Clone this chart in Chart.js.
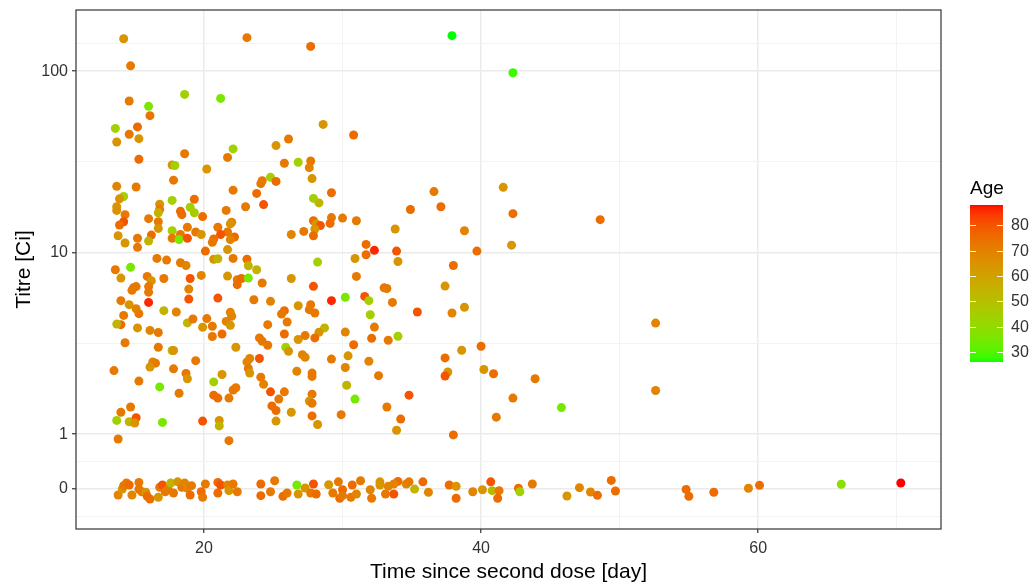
<!DOCTYPE html>
<html>
<head>
<meta charset="utf-8">
<title>Titre vs time since second dose</title>
<script src="https://cdn.jsdelivr.net/npm/chart.js@4.4.1/dist/chart.umd.min.js"></script>
<style>
  html, body { margin: 0; padding: 0; background: #ffffff; }
  #titreChart { display: block; }
</style>
</head>
<body>
<canvas id="titreChart" width="1034" height="585"></canvas>
<script>
// measured titres (days since second dose, titre, age)
const measuredDays = [
  14.2, 23.1, 27.7, 37.9, 14.7, 14.6, 18.6, 16.0, 21.2, 42.3,
  16.1, 13.6, 15.2, 14.6, 15.3, 13.7, 15.3, 18.6, 17.7, 17.9,
  17.8, 13.7, 15.1, 19.3, 17.7, 14.2, 13.9, 16.8, 19.0, 19.3,
  13.7, 13.7, 16.8, 18.3, 18.4, 14.3, 16.7, 16.0, 14.2, 13.9,
  16.7, 16.7, 18.8, 17.7, 19.4, 16.2, 13.8, 18.3, 17.7, 18.2,
  18.8, 15.2, 16.0, 14.3, 15.2, 16.6, 17.3, 18.3, 18.7, 14.7,
  13.6, 14.0, 15.9, 16.2, 17.1, 19.0, 18.9, 18.9, 14.9, 15.1,
  14.8, 16.0, 16.0, 14.0, 14.6, 15.1, 15.3, 16.0, 17.1, 18.0,
  14.2, 14.0, 13.7, 15.2, 16.1, 16.7, 18.8, 19.2, 14.3, 16.7,
  17.7, 17.8, 19.4, 16.3, 16.5, 16.1, 13.5, 17.8, 18.7, 18.8,
  15.3, 16.8, 18.2, 14.7, 14.0, 13.7, 14.6, 15.1, 15.0, 17.0,
  13.8,
  22.1, 21.7, 25.2, 26.1, 25.8, 26.8, 20.2, 24.8, 25.2, 24.2,
  24.1, 22.1, 23.8, 24.3, 23.0, 21.6, 19.9, 21.0, 22.0, 21.9,
  19.8, 21.7, 21.2, 20.7, 20.6, 22.2, 21.9, 26.3, 20.1, 21.7,
  20.7, 21.0, 22.1, 23.1, 23.2, 23.8,
  21.7, 19.8, 22.4, 22.7, 22.4, 23.2, 24.2, 26.3, 21.0, 23.6,
  24.8, 26.8, 25.8, 25.6, 20.2, 21.9, 22.0, 21.6, 21.9, 19.9,
  20.6, 26.0, 24.6, 21.3, 20.6, 25.8, 26.8, 24.0, 24.2, 24.6,
  25.9, 26.1, 22.3, 24.0, 23.3, 23.1, 23.2, 23.3, 26.7, 21.3,
  20.7, 24.1, 24.3, 22.1, 22.3, 25.8, 24.8, 20.7, 21.0, 21.8,
  25.4, 24.9, 25.2, 26.3, 25.2, 19.9, 21.1, 21.1, 21.8,
  28.6, 30.8, 27.7, 27.6, 27.8, 29.2, 27.9, 28.3, 27.9, 28.1,
  28.4, 28.0, 29.2, 29.1, 30.0, 31.0, 27.2, 27.9, 33.8, 31.7,
  32.3, 31.7, 33.9, 34.0, 28.2, 30.9,
  31.0, 27.9, 33.0, 33.2, 29.2, 30.2, 31.6, 31.9, 33.6, 27.7,
  27.6, 28.0, 32.0, 32.3, 28.7, 28.3, 30.2, 27.3, 28.0, 32.1,
  33.3, 34.0, 30.8, 27.1, 27.3, 29.2, 30.4, 30.2, 31.9, 27.8,
  27.8, 32.6, 30.3, 27.8, 27.6, 27.8, 30.9, 33.2, 27.8, 29.9,
  28.2, 34.2, 33.9,
  41.6, 36.6, 34.9, 37.1, 42.3, 38.8, 42.2, 39.7, 38.0, 37.4,
  35.4, 37.9, 38.8, 40.0, 38.6, 37.4, 37.6, 37.4, 40.2, 40.9,
  34.8, 42.3, 41.1, 38.0, 48.6, 52.6, 43.9, 45.8, 52.6
];
const measuredTitre = [
  151, 153, 137, 157, 107, 68.5, 74.5, 64, 70.8, 98,
  56.9, 48.4, 49.3, 44.9, 42.5, 40.7, 32.7, 35.1, 30.4, 30.2,
  25.1, 23.2, 23.0, 19.7, 19.4, 20.4, 19.8, 18.5, 17.8, 16.6,
  17.9, 17.1, 17.3, 16.9, 16.2, 16.2, 16.6, 15.4, 14.8, 14.2,
  14.8, 13.6, 13.8, 13.2, 13.0, 12.5, 12.4, 12.6, 12.0, 11.8,
  12.0, 12.0, 11.6, 11.3, 10.7, 9.3, 9.1, 8.8, 8.5, 8.3,
  8.05, 7.24, 7.4, 7.0, 7.2, 7.2, 6.3, 5.55, 6.4, 6.5,
  6.2, 6.5, 6.06, 5.44, 5.17, 4.91, 4.61, 5.32, 4.79, 4.71,
  4.51, 4.01, 4.04, 3.85, 3.73, 3.63, 4.1, 4.31, 3.19, 3.01,
  2.89, 2.89, 2.54, 2.50, 2.46, 2.34, 2.24, 2.29, 2.16, 2.02,
  1.96, 1.82, 1.68, 1.41, 1.32, 1.19, 1.17, 1.23, 1.15, 1.16,
  0.94,
  37.3, 33.5, 38.9, 42.3, 31.1, 31.5, 28.9, 26.0, 24.7, 24.9,
  24.0, 22.1, 21.2, 18.4, 17.9, 17.1, 15.8, 13.8, 14.7, 14.4,
  12.6, 13.0, 12.6, 11.9, 11.4, 12.2, 11.8, 12.6, 10.2, 10.4,
  9.2, 9.25, 9.3, 9.2, 8.47, 8.05,
  7.43, 7.49, 7.1, 7.2, 6.66, 7.24, 6.8, 7.2, 5.62, 5.5,
  5.39, 5.1, 4.79, 4.59, 4.33, 4.69, 4.46, 4.18, 3.98, 3.88,
  3.93, 4.15, 4.01, 3.56, 3.45, 3.56, 3.32, 3.39, 3.25, 3.09,
  3.01, 2.86, 3.01, 2.61, 2.61, 2.50, 2.30, 2.17, 2.22, 2.13,
  1.94, 2.06, 1.88, 1.75, 1.80, 1.71, 1.71, 1.64, 1.58, 1.58,
  1.56, 1.43, 1.35, 1.32, 1.18, 1.18, 1.19, 1.11, 0.92,
  50.9, 44.5, 32.0, 29.4, 25.6, 21.4, 19.9, 18.8, 15.0, 14.4,
  14.1, 13.5, 15.6, 14.5, 15.5, 15.0, 13.1, 12.4, 13.5, 11.1,
  10.3, 9.74, 10.2, 8.94, 8.87, 9.29,
  7.4, 6.52, 6.4, 6.35, 5.44, 5.67, 5.74, 5.44, 5.32, 5.17,
  4.85, 4.65, 4.55, 3.89, 3.85, 3.64, 3.65, 3.49, 3.39, 3.37,
  3.29, 3.46, 3.11, 2.74, 2.65, 2.59, 2.70, 2.33, 2.52, 2.17,
  2.08, 2.10, 1.86, 1.66, 1.52, 1.48, 1.56, 1.41, 1.26, 1.28,
  1.13, 1.21, 1.05,
  22.9, 21.7, 17.3, 17.9, 16.4, 13.2, 11.0, 10.2, 8.5, 6.54,
  4.71, 4.65, 5.0, 3.05, 2.90, 2.63, 2.20, 2.09, 2.27, 2.15,
  1.64, 1.58, 1.24, 0.99, 15.2, 4.09, 2.02, 1.40, 1.74
];
const measuredAge = [
  64, 72, 75, 26, 72, 72, 44, 36, 35, 28,
  73, 44, 75, 72, 64, 65, 75, 72, 64, 44,
  72, 69, 72, 75, 44, 44, 64, 64, 44, 46,
  64, 65, 72, 75, 75, 72, 54, 72, 80, 75,
  72, 64, 72, 44, 72, 75, 64, 72, 72, 35,
  80, 72, 54, 64, 72, 72, 72, 72, 69, 35,
  72, 64, 72, 64, 72, 80, 69, 80, 72, 72,
  72, 72, 72, 72, 64, 69, 72, 86, 54, 69,
  72, 75, 54, 64, 69, 72, 54, 72, 72, 72,
  54, 64, 72, 69, 72, 64, 72, 72, 72, 64,
  72, 35, 72, 72, 72, 44, 54, 80, 64, 35,
  72,
  44, 72, 64, 72, 72, 44, 64, 44, 75, 72,
  72, 72, 75, 80, 72, 72, 75, 72, 69, 64,
  64, 72, 80, 75, 72, 75, 69, 69, 75, 64,
  64, 54, 72, 75, 54, 54,
  64, 69, 72, 75, 75, 35, 72, 64, 80, 72,
  69, 64, 75, 72, 72, 69, 69, 69, 64, 64,
  72, 72, 72, 75, 72, 75, 64, 72, 72, 72,
  44, 64, 64, 80, 69, 69, 72, 64, 69, 64,
  44, 72, 69, 72, 72, 72, 80, 75, 75, 72,
  72, 75, 75, 64, 64, 80, 64, 54, 72,
  64, 75, 72, 69, 64, 75, 44, 54, 75, 64,
  80, 64, 72, 75, 72, 72, 72, 75, 64, 75,
  86, 75, 80, 64, 44, 64,
  72, 80, 72, 72, 86, 35, 80, 44, 72, 72,
  72, 72, 44, 72, 54, 64, 69, 72, 75, 75,
  72, 44, 75, 69, 69, 72, 64, 69, 69, 72,
  72, 72, 54, 72, 64, 72, 35, 72, 75, 72,
  64, 75, 64,
  64, 72, 75, 75, 75, 69, 64, 75, 75, 64,
  80, 69, 64, 75, 64, 75, 64, 80, 64, 75,
  80, 72, 72, 75, 75, 69, 72, 35, 69
];

// titre below detection (shown as 0), jittered around the 0 line
const zeroDays = [
  13.8, 14.1, 14.2, 14.4, 14.6, 14.8, 15.3, 15.3, 15.5, 15.8,
  15.9, 16.1, 16.7, 16.8, 17.0, 17.2, 17.4, 17.6, 17.8, 18.1,
  18.4, 18.6, 18.8, 19.0, 19.1, 19.8, 20.1, 19.9, 21.0, 21.0,
  21.2, 21.7, 21.8, 22.1, 22.4, 24.1, 24.1, 24.8, 25.1, 25.7,
  26.0, 26.7, 26.8, 27.3, 27.7, 27.9, 28.1, 29.0, 29.3, 29.7,
  29.8, 30.0, 30.0, 30.6, 30.7, 31.0, 31.3, 32.0, 32.1, 32.7,
  32.7, 33.1, 33.3, 33.7, 34.0, 33.7, 34.6, 34.8, 35.2, 35.8,
  36.2, 37.7, 38.2, 38.2, 39.4, 40.1, 40.7, 40.8, 41.3, 41.2,
  42.7, 42.8, 43.7, 46.2, 47.1, 47.9, 48.4, 49.4, 49.7, 54.8,
  55.0, 56.8, 59.3, 60.1, 66.0, 70.3
];
const zeroLevel = [
  0.462, 0.498, 0.520, 0.538, 0.524, 0.462, 0.542, 0.498, 0.481, 0.478,
  0.454, 0.439, 0.449, 0.509, 0.524, 0.481, 0.498, 0.538, 0.474, 0.546,
  0.509, 0.538, 0.503, 0.462, 0.520, 0.481, 0.531, 0.449, 0.542, 0.474,
  0.524, 0.524, 0.488, 0.531, 0.481, 0.531, 0.458, 0.481, 0.553, 0.454,
  0.474, 0.524, 0.468, 0.505, 0.474, 0.531, 0.468, 0.526, 0.474, 0.546,
  0.443, 0.494, 0.458, 0.449, 0.524, 0.468, 0.553, 0.494, 0.443, 0.546,
  0.524, 0.468, 0.516, 0.468, 0.549, 0.531, 0.531, 0.546, 0.498, 0.546,
  0.478, 0.524, 0.516, 0.443, 0.481, 0.494, 0.546, 0.488, 0.488, 0.443,
  0.503, 0.481, 0.531, 0.456, 0.507, 0.480, 0.460, 0.556, 0.486, 0.496,
  0.454, 0.478, 0.503, 0.522, 0.529, 0.538
];
const zeroAge = [
  69, 64, 72, 72, 75, 69, 72, 72, 72, 64,
  75, 75, 64, 72, 80, 72, 72, 54, 72, 64,
  72, 69, 69, 75, 72, 75, 72, 72, 75, 75,
  80, 69, 64, 72, 72, 75, 75, 72, 72, 75,
  72, 35, 64, 64, 72, 80, 75, 64, 72, 72,
  75, 75, 72, 72, 75, 69, 72, 69, 72, 64,
  64, 72, 69, 80, 75, 69, 69, 72, 54, 75,
  69, 75, 64, 75, 69, 64, 80, 54, 72, 75,
  75, 44, 72, 64, 69, 69, 75, 75, 75, 75,
  75, 75, 69, 75, 38, 88
];

// axis breaks
const xMajorTicks = [20, 40, 60];
const xMinorTicks = [30, 50, 70];
const yMajorTicks = [0.5, 1, 10, 100];
const yMajorLabels = ['0', '1', '10', '100'];
const yMinorTicks = [0.3536, 0.7071, 3.162, 31.62, 141.4];
const ageTicks = [30, 40, 50, 60, 70, 80];
const ageRange = [26, 88];

const FONT = "'Liberation Sans', Arial, Helvetica, sans-serif";

// ggplot-like green -> red gradient, interpolated in CIE Lab
function toLinear(c) {
  c /= 255;
  return c <= 0.04045 ? c / 12.92 : Math.pow((c + 0.055) / 1.055, 2.4);
}
function fromLinear(c) {
  const v = c <= 0.0031308 ? 12.92 * c : 1.055 * Math.pow(c, 1 / 2.4) - 0.055;
  return Math.round(Math.max(0, Math.min(1, v)) * 255);
}
function rgbToLab(rgb) {
  const r = toLinear(rgb[0]), g = toLinear(rgb[1]), b = toLinear(rgb[2]);
  const x = (0.4124 * r + 0.3576 * g + 0.1805 * b) / 0.95047;
  const y = 0.2126 * r + 0.7152 * g + 0.0722 * b;
  const z = (0.0193 * r + 0.1192 * g + 0.9505 * b) / 1.08883;
  const f = t => t > 0.008856 ? Math.cbrt(t) : 7.787 * t + 16 / 116;
  return [116 * f(y) - 16, 500 * (f(x) - f(y)), 200 * (f(y) - f(z))];
}
function labToRgb(lab) {
  const fy = (lab[0] + 16) / 116, fx = fy + lab[1] / 500, fz = fy - lab[2] / 200;
  const inv = t => t * t * t > 0.008856 ? t * t * t : (t - 16 / 116) / 7.787;
  const x = inv(fx) * 0.95047, y = inv(fy), z = inv(fz) * 1.08883;
  const r = 3.2406 * x - 1.5372 * y - 0.4986 * z;
  const g = -0.9689 * x + 1.8758 * y + 0.0415 * z;
  const b = 0.0557 * x - 0.2040 * y + 1.0570 * z;
  return [fromLinear(r), fromLinear(g), fromLinear(b)];
}
const LOW_LAB = rgbToLab([0, 255, 0]);
const HIGH_LAB = rgbToLab([255, 0, 0]);
function ageColour(a) {
  const t = Math.max(0, Math.min(1, (a - ageRange[0]) / (ageRange[1] - ageRange[0])));
  const lab = LOW_LAB.map((v, i) => v + (HIGH_LAB[i] - v) * t);
  const c = labToRgb(lab);
  return `rgb(${c[0]}, ${c[1]}, ${c[2]})`;
}

function toPoints(xs, ys) {
  return xs.map((x, i) => ({ x: x, y: ys[i] }));
}

// panel border drawn on top of the points, like theme_bw
const panelBorder = {
  id: 'panelBorder',
  afterDatasetsDraw(chart) {
    const { ctx, chartArea: a } = chart;
    ctx.save();
    ctx.strokeStyle = '#333333';
    ctx.lineWidth = 1.2;
    ctx.strokeRect(a.left, a.top, a.right - a.left, a.bottom - a.top);
    ctx.restore();
  }
};

// continuous colour bar for Age
const ageColourbar = {
  id: 'ageColourbar',
  afterDraw(chart) {
    const ctx = chart.ctx;
    const left = 970, right = 1003, top = 205, bottom = 362;
    const span = bottom - top;
    ctx.save();
    for (let py = top; py < bottom; py++) {
      const a = ageRange[1] - (py - top + 0.5) / span * (ageRange[1] - ageRange[0]);
      ctx.fillStyle = ageColour(a);
      ctx.fillRect(left, py, right - left, 1);
    }
    ctx.strokeStyle = 'rgba(255,255,255,0.9)';
    ctx.lineWidth = 1;
    ctx.fillStyle = '#333333';
    ctx.font = `16px ${FONT}`;
    ctx.textAlign = 'left';
    ctx.textBaseline = 'middle';
    ageTicks.forEach(v => {
      const y = Math.round(bottom - (v - ageRange[0]) / (ageRange[1] - ageRange[0]) * span) + 0.5;
      ctx.beginPath();
      ctx.moveTo(left, y);
      ctx.lineTo(left + 6, y);
      ctx.moveTo(right - 6, y);
      ctx.lineTo(right, y);
      ctx.stroke();
      ctx.fillText(String(v), 1011, y);
    });
    ctx.fillStyle = '#000000';
    ctx.font = `19px ${FONT}`;
    ctx.fillText('Age', 970, 189);
    ctx.restore();
  }
};

const isYMajor = v => yMajorTicks.some(m => Math.abs(m - v) < 1e-9);
const isXMajor = v => xMajorTicks.includes(v);

new Chart(document.getElementById('titreChart'), {
  type: 'scatter',
  data: {
    datasets: [
      {
        label: 'Titre',
        data: toPoints(measuredDays, measuredTitre),
        pointBackgroundColor: measuredAge.map(ageColour),
        pointBorderWidth: 0,
        pointRadius: 4.5
      },
      {
        label: 'Below detection',
        data: toPoints(zeroDays, zeroLevel),
        pointBackgroundColor: zeroAge.map(ageColour),
        pointBorderWidth: 0,
        pointRadius: 4.5
      }
    ]
  },
  options: {
    responsive: false,
    animation: false,
    events: [],
    layout: { padding: { left: 0, top: 10, right: 93, bottom: 0 } },
    plugins: {
      legend: { display: false },
      tooltip: { enabled: false }
    },
    scales: {
      x: {
        type: 'linear',
        min: 10.76,
        max: 73.2,
        afterBuildTicks: scale => {
          scale.ticks = xMajorTicks.concat(xMinorTicks).sort((a, b) => a - b).map(v => ({ value: v }));
        },
        afterFit: scale => {
          scale.height = 56;
          scale.paddingLeft = 0;
          scale.paddingRight = 0;
        },
        border: { display: false },
        grid: {
          color: c => isXMajor(c.tick.value) ? '#ebebeb' : '#f3f3f3',
          lineWidth: c => isXMajor(c.tick.value) ? 1.5 : 1,
          tickColor: c => isXMajor(c.tick.value) ? '#333333' : 'rgba(0,0,0,0)',
          tickLength: 4,
          tickWidth: 1.2
        },
        ticks: {
          autoSkip: false,
          maxRotation: 0,
          padding: 6,
          color: '#333333',
          font: { family: FONT, size: 16 },
          callback: v => isXMajor(v) ? String(v) : ''
        },
        title: {
          display: true,
          text: 'Time since second dose [day]',
          color: '#000000',
          font: { family: FONT, size: 21 },
          padding: { top: 0, bottom: 0 }
        }
      },
      y: {
        type: 'logarithmic',
        min: 0.304,
        max: 217.4,
        afterBuildTicks: scale => {
          scale.ticks = yMajorTicks.concat(yMinorTicks).sort((a, b) => a - b).map(v => ({ value: v }));
        },
        afterFit: scale => {
          scale.width = 76;
          scale.paddingTop = 0;
          scale.paddingBottom = 0;
        },
        border: { display: false },
        grid: {
          color: c => isYMajor(c.tick.value) ? '#ebebeb' : '#f3f3f3',
          lineWidth: c => isYMajor(c.tick.value) ? 1.5 : 1,
          tickColor: c => isYMajor(c.tick.value) ? '#333333' : 'rgba(0,0,0,0)',
          tickLength: 4,
          tickWidth: 1.2
        },
        ticks: {
          autoSkip: false,
          padding: 4,
          color: '#333333',
          font: { family: FONT, size: 16 },
          callback: v => {
            const i = yMajorTicks.findIndex(m => Math.abs(m - v) < 1e-9);
            return i >= 0 ? yMajorLabels[i] : '';
          }
        },
        title: {
          display: true,
          text: 'Titre [Ci]',
          color: '#000000',
          font: { family: FONT, size: 21 },
          padding: { top: 12, bottom: 0 }
        }
      }
    }
  },
  plugins: [panelBorder, ageColourbar]
});
</script>
</body>
</html>
